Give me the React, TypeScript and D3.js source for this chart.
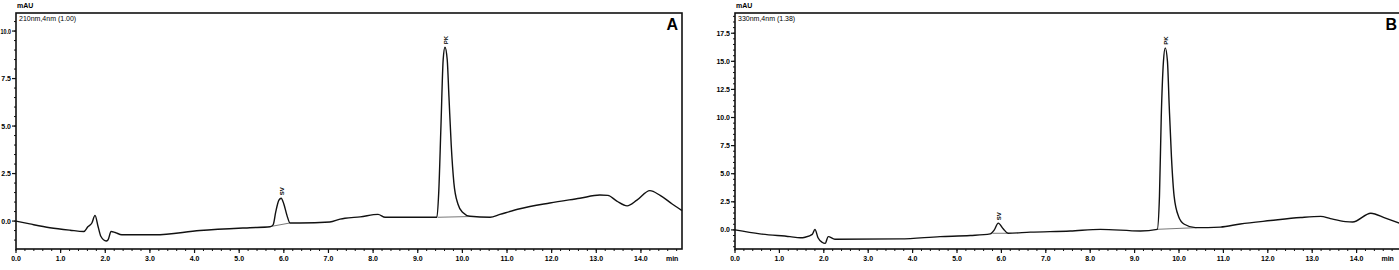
import React from "react";
import * as d3 from "d3";

// retention time (min) and absorbance (mAU)
const timeA = [0, 0.31, 0.76, 1.21, 1.52, 1.61, 1.7, 1.77, 1.84, 1.9, 2.02, 2.06, 2.13, 2.22, 2.37, 3.11, 4.12, 5.24, 5.69, 5.76, 5.82, 5.89, 5.94, 6.0, 6.07, 6.14, 6.36, 7.03, 7.26, 7.37, 7.71, 8.11, 8.27, 9.43, 9.47, 9.52, 9.57, 9.61, 9.66, 9.7, 9.75, 9.81, 9.9, 10.01, 10.17, 10.62, 10.84, 11.29, 11.96, 12.63, 13.08, 13.26, 13.46, 13.69, 13.91, 14.2, 14.43, 14.7, 14.92];
const signalA = [0, -0.15, -0.35, -0.48, -0.55, -0.3, -0.1, 0.3, -0.3, -0.8, -1.05, -1.0, -0.55, -0.6, -0.72, -0.72, -0.5, -0.35, -0.3, -0.2, 0.5, 1.1, 1.2, 0.9, 0.3, -0.1, -0.1, -0.05, 0.1, 0.15, 0.22, 0.35, 0.2, 0.2, 1.5, 5.0, 8.5, 9.15, 8.5, 6.5, 4.0, 2.0, 0.9, 0.45, 0.25, 0.2, 0.35, 0.65, 0.95, 1.2, 1.37, 1.35, 1.05, 0.8, 1.1, 1.6, 1.35, 0.9, 0.55];

const timeB = [0, 0.56, 1.24, 1.47, 1.58, 1.74, 1.8, 1.87, 1.96, 2.03, 2.1, 2.25, 3.72, 4.62, 5.3, 5.75, 5.84, 5.93, 6.04, 6.15, 6.65, 7.55, 8.23, 9.13, 9.51, 9.56, 9.6, 9.65, 9.69, 9.74, 9.78, 9.83, 9.89, 9.99, 10.12, 10.37, 10.93, 11.38, 12.06, 12.74, 13.19, 13.41, 13.75, 13.91, 14.32, 14.65, 14.97];
const signalB = [0, -0.35, -0.6, -0.7, -0.65, -0.4, 0.05, -0.7, -1.1, -1.2, -0.6, -0.83, -0.8, -0.6, -0.5, -0.35, 0.0, 0.6, 0.1, -0.3, -0.2, -0.1, 0.05, -0.1, 0.05, 3, 10, 15, 16.2, 15, 11, 6.5, 3, 1.2, 0.5, 0.2, 0.25, 0.53, 0.83, 1.1, 1.2, 1.0, 0.74, 0.7, 1.48, 1.04, 0.6];

// peak names, apex times, integration baselines [t0, y0, t1, y1]
const peakNames = ["SV", "PK"];
const peaksA = [5.94, 9.61];
const peakHeightsA = [1.2, 9.15];
const baselinesA = [[5.72, -0.28, 6.14, -0.1], [9.45, 0.2, 10.2, 0.24]];
const peaksB = [5.93, 9.69];
const peakHeightsB = [0.6, 16.2];
const baselinesB = [[5.8, -0.3, 6.15, -0.3], [9.5, 0.05, 10.4, 0.2]];

const yTicksA = [0, 2.5, 5, 7.5, 10];
const yTicksB = [0, 2.5, 5, 7.5, 10, 12.5, 15, 17.5];
const xTicks = d3.range(0, 15, 1);

const panels = [
  { letter: "A", channel: "210nm,4nm (1.00)", time: timeA, signal: signalA, peaks: peaksA, heights: peakHeightsA, baselines: baselinesA, yTicks: yTicksA,
    left: 16, right: 682, top: 13, bottom: 249, xMax: 14.92, yMin: -1.47, yMax: 10.95 },
  { letter: "B", channel: "330nm,4nm (1.38)", time: timeB, signal: signalB, peaks: peaksB, heights: peakHeightsB, baselines: baselinesB, yTicks: yTicksB,
    left: 735, right: 1401, top: 13, bottom: 249, xMax: 15.0, yMin: -1.7, yMax: 19.3 },
];

const font = "'Liberation Sans', Arial, sans-serif";

function Panel({ p }: { p: any }) {
  const x = d3.scaleLinear().domain([0, p.xMax]).range([p.left, p.right]);
  const y = d3.scaleLinear().domain([p.yMin, p.yMax]).range([p.bottom, p.top]);
  const line = d3.line<number>()
    .x((d, i) => x(p.time[i]))
    .y(d => y(d))
    .curve(d3.curveMonotoneX);
  const minorY = d3.range(Math.ceil(p.yMin * 2) / 2, p.yMax, 0.5);
  const minorX = d3.range(0, p.xMax, 0.2);

  return (
    <g>
      <text x={p.left + 1} y={8} fontSize={7} fontFamily={font} fontWeight="bold">mAU</text>
      <rect x={p.left} y={p.top} width={p.right - p.left} height={p.bottom - p.top} fill="none" stroke="#111" strokeWidth={1.6} />
      <text x={p.left + 3} y={p.top + 8} fontSize={7} fontFamily={font}>{p.channel}</text>
      <text x={p.right - 4} y={p.top + 17} fontSize={16} fontWeight="bold" fontFamily={font} textAnchor="end">{p.letter}</text>

      {minorY.map((v: number, i: number) => (
        <line key={"my" + i} x1={p.left - 2} x2={p.left} y1={y(v)} y2={y(v)} stroke="#111" strokeWidth={1} />
      ))}
      {p.yTicks.map((v: number) => {
        const label = v.toFixed(1);
        // the left panel has very little room for four-character labels
        const squeeze = p.left < 20 && label.length > 3;
        return (
          <g key={"y" + v}>
            <line x1={p.left - 4} x2={p.left} y1={y(v)} y2={y(v)} stroke="#111" strokeWidth={1.2} />
            <text x={p.left - 5} y={y(v) + 2.5} fontSize={7} fontFamily={font} fontWeight="bold" textAnchor="end"
              textLength={squeeze ? 10.5 : undefined} lengthAdjust="spacingAndGlyphs">{label}</text>
          </g>
        );
      })}
      {minorX.map((v: number, i: number) => (
        <line key={"mx" + i} x1={x(v)} x2={x(v)} y1={p.bottom} y2={p.bottom + 2} stroke="#111" strokeWidth={1} />
      ))}
      {xTicks.map((v: number) => (
        <g key={"x" + v}>
          <line x1={x(v)} x2={x(v)} y1={p.bottom} y2={p.bottom + 4} stroke="#111" strokeWidth={1.2} />
          <text x={x(v)} y={p.bottom + 12} fontSize={7} fontFamily={font} fontWeight="bold" textAnchor="middle">{v.toFixed(1)}</text>
        </g>
      ))}
      <text x={x(14.7)} y={p.bottom + 12} fontSize={7} fontFamily={font} fontWeight="bold" textAnchor="middle">min</text>

      {p.baselines.map((b: number[], i: number) => (
        <line key={"b" + i} x1={x(b[0])} y1={y(b[1])} x2={x(b[2])} y2={y(b[3])} stroke="#555" strokeWidth={0.8} />
      ))}
      <path d={line(p.signal) || ""} fill="none" stroke="#111" strokeWidth={1.4} strokeLinejoin="round" />
      {p.peaks.map((t: number, i: number) => (
        <text key={"pk" + i} transform={`translate(${x(t) + 3},${y(p.heights[i]) - 3}) rotate(-90)`} fontSize={6} fontFamily={font} fontWeight="bold">{peakNames[i]}</text>
      ))}
    </g>
  );
}

export default function App() {
  return (
    <svg width={1399} height={270} style={{ position: "absolute", left: 0, top: 0, background: "#fff" }}>
      <rect width={1399} height={270} fill="#fff" />
      {panels.map(p => <Panel key={p.letter} p={p} />)}
    </svg>
  );
}
